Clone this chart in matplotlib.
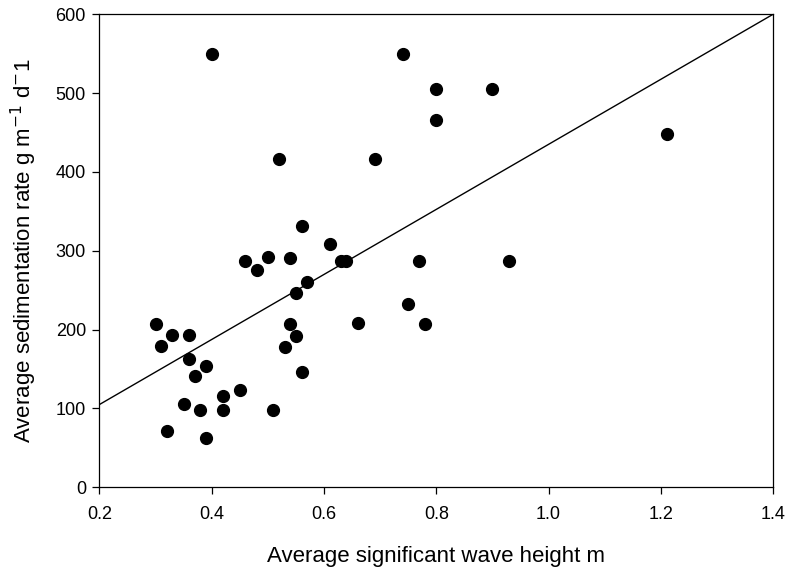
import matplotlib
matplotlib.use("Agg")
import matplotlib.pyplot as plt
import numpy as np

plt.rcParams['font.family'] = ['Liberation Sans', 'DejaVu Sans']

wave_height = [0.30, 0.31, 0.33, 0.36, 0.32, 0.35, 0.36, 0.37, 0.38, 0.39, 0.39, 0.40,
               0.42, 0.42, 0.45, 0.46, 0.48, 0.50, 0.51, 0.52, 0.53, 0.54, 0.54, 0.55,
               0.55, 0.56, 0.56, 0.57, 0.61, 0.63, 0.64, 0.66, 0.69, 0.74, 0.75, 0.77,
               0.78, 0.80, 0.80, 0.90, 0.93, 1.21]
sed_rate = [207, 179, 193, 193, 72, 106, 163, 141, 98, 154, 63, 550,
            116, 98, 123, 287, 275, 292, 98, 416, 178, 291, 207, 192,
            247, 332, 146, 260, 309, 287, 287, 209, 417, 550, 233, 287,
            207, 505, 466, 505, 287, 448]

line_x = [0.2, 1.4]
line_y = [105, 600]

x_ticks = [0.2, 0.4, 0.6, 0.8, 1.0, 1.2, 1.4]
y_ticks = [0, 100, 200, 300, 400, 500, 600]

fig = plt.figure(figsize=(7.89, 5.68), dpi=100)
ax = fig.add_axes([0.126, 0.142, 0.854, 0.833])

ax.plot(line_x, line_y, color='black', lw=1.0, zorder=2)
ax.plot(wave_height, sed_rate, 'o', color='black', markersize=8.5, zorder=3, clip_on=False)

ax.set_xlim(0.2, 1.4)
ax.set_ylim(0, 600)
ax.set_xticks(x_ticks)
ax.set_xticklabels([f"{t:.1f}" for t in x_ticks])
ax.set_yticks(y_ticks)
ax.tick_params(direction='out', length=4.7, width=0.9, labelsize=13, top=False, right=False)
ax.tick_params(axis='x', pad=8.5)
ax.tick_params(axis='y', pad=5)
for s in ax.spines.values():
    s.set_linewidth(0.9)

ax.set_xlabel("Average significant wave height m", fontsize=16, labelpad=16.5)
ax.set_ylabel("Average sedimentation rate g m$^{-1}$ d$^{-}$1", fontsize=16, labelpad=12)

fig.savefig("out.png", dpi=100)
